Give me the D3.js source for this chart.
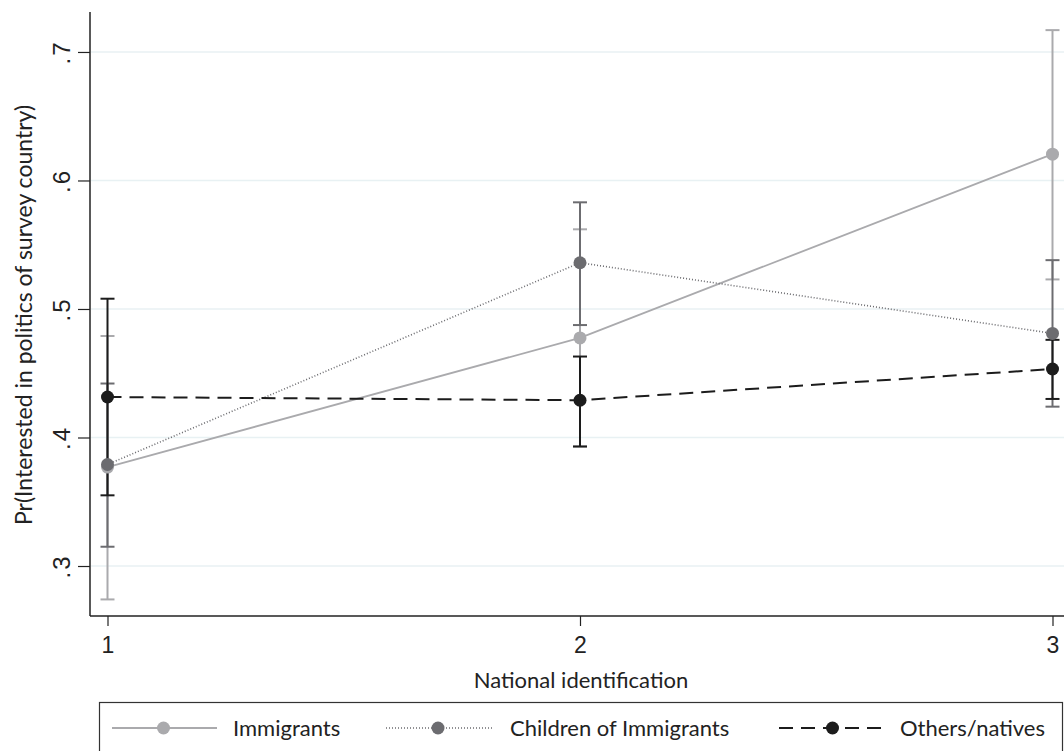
<!DOCTYPE html>
<html>
<head>
<meta charset="utf-8">
<script src="https://cdn.jsdelivr.net/npm/d3@7/dist/d3.min.js"></script>
<style>
  body { margin: 0; background: #fff; }
  svg { display: block; font-family: Lato, "Open Sans", sans-serif; }
</style>
</head>
<body>
<svg id="chart" width="1064" height="751"></svg>
<script>
// values
const categories = [1, 2, 3];
const yTicks = [0.3, 0.4, 0.5, 0.6, 0.7];
const yTickLabels = [".3", ".4", ".5", ".6", ".7"];

const immigrants   = [0.377, 0.4775, 0.6205];
const immigrantsLo = [0.274, 0.393, 0.523];
const immigrantsHi = [0.479, 0.562, 0.717];

const children   = [0.379, 0.536, 0.481];
const childrenLo = [0.315, 0.4875, 0.424];
const childrenHi = [0.442, 0.583, 0.538];

const natives   = [0.4315, 0.429, 0.4533];
const nativesLo = [0.355, 0.393, 0.430];
const nativesHi = [0.508, 0.463, 0.476];

const series = [
  { name: "Immigrants", est: immigrants, lo: immigrantsLo, hi: immigrantsHi,
    color: "#aaaaad", dash: null, width: 1.8 },
  { name: "Children of Immigrants", est: children, lo: childrenLo, hi: childrenHi,
    color: "#6c6c70", dash: "1,2", width: 1.6 },
  { name: "Others/natives", est: natives, lo: nativesLo, hi: nativesHi,
    color: "#1c1c1c", dash: "14,8", width: 2 },
];

const svg = d3.select("#chart");
const pL = 90, pR = 1064, pT = 12, pB = 616;

const x = d3.scaleLinear().domain([1, 3]).range([107.5, 1052.5]);
const y = d3.scaleLinear().domain([0.2611, 0.7311]).range([pB, pT]);

// grid
svg.append("g").selectAll("line").data(yTicks).join("line")
  .attr("x1", pL + 1).attr("x2", pR)
  .attr("y1", (d) => y(d)).attr("y2", (d) => y(d))
  .attr("stroke", "#e8f1f3").attr("stroke-width", 1.5);

// y axis
const yAxis = svg.append("g").attr("transform", `translate(${pL},0)`)
  .call(d3.axisLeft(y).tickValues(yTicks).tickSize(12)
    .tickFormat((d, i) => yTickLabels[i]));
yAxis.select(".domain").attr("d", `M0,${pT}V${pB}`).attr("stroke", "#222").attr("stroke-width", 1.5);
yAxis.selectAll(".tick line").attr("stroke", "#222").attr("stroke-width", 1.2);
yAxis.selectAll(".tick text")
  .attr("x", 0).attr("dy", 0)
  .attr("transform", "translate(-20,0) rotate(-90)")
  .attr("text-anchor", "middle")
  .style("font-size", "24px").style("letter-spacing", "2px").attr("fill", "#222");

// x axis
const xAxis = svg.append("g").attr("transform", `translate(0,${pB})`)
  .call(d3.axisBottom(x).tickValues(categories).tickSize(10).tickFormat(d3.format("d")));
xAxis.select(".domain").attr("d", `M${pL},0H${pR}`).attr("stroke", "#222").attr("stroke-width", 1.5);
xAxis.selectAll(".tick line").attr("stroke", "#222").attr("stroke-width", 1.2);
xAxis.selectAll(".tick text").attr("y", 37).attr("dy", 0)
  .style("font-size", "23px").attr("fill", "#222");

// axis titles
svg.append("text").attr("x", (pL + pR) / 2 + 4).attr("y", 688)
  .attr("text-anchor", "middle").style("font-size", "22px").attr("fill", "#222")
  .text("National identification");
svg.append("text")
  .attr("transform", `translate(32,${(pT + pB) / 2 + 1}) rotate(-90)`)
  .attr("text-anchor", "middle").style("font-size", "23px").attr("fill", "#222")
  .text("Pr(Interested in politics of survey country)");

// confidence intervals
const cap = 7;
series.forEach((s) => {
  const g = svg.append("g").attr("stroke", s.color).attr("stroke-width", 2);
  categories.forEach((c, i) => {
    g.append("line").attr("x1", x(c)).attr("x2", x(c))
      .attr("y1", y(s.lo[i])).attr("y2", y(s.hi[i]));
    [s.lo[i], s.hi[i]].forEach((v) => {
      g.append("line").attr("x1", x(c) - cap).attr("x2", x(c) + cap)
        .attr("y1", y(v)).attr("y2", y(v));
    });
  });
});

// lines and markers
const line = d3.line().x((d) => x(d[0])).y((d) => y(d[1]));
series.forEach((s) => {
  svg.append("path").datum(categories.map((c, i) => [c, s.est[i]]))
    .attr("d", line).attr("fill", "none")
    .attr("stroke", s.color).attr("stroke-width", s.width)
    .attr("stroke-dasharray", s.dash);
  svg.append("g").selectAll("circle").data(categories).join("circle")
    .attr("cx", (d) => x(d)).attr("cy", (d, i) => y(s.est[i]))
    .attr("r", 6.5).attr("fill", s.color);
});

// legend
const leg = svg.append("g");
leg.append("rect").attr("x", 99.5).attr("y", 702.5).attr("width", 963).attr("height", 60)
  .attr("fill", "#fff").attr("stroke", "#333").attr("stroke-width", 1.2);
const legX = [112, 386, 779];
const legW = [105, 106, 109];
const legTextX = [233, 510, 900];
series.forEach((s, i) => {
  const ly = 728;
  leg.append("line").attr("x1", legX[i]).attr("x2", legX[i] + legW[i])
    .attr("y1", ly).attr("y2", ly)
    .attr("stroke", s.color).attr("stroke-width", s.width)
    .attr("stroke-dasharray", s.dash);
  leg.append("circle").attr("cx", legX[i] + legW[i] / 2 - 1).attr("cy", ly)
    .attr("r", 6.5).attr("fill", s.color);
  leg.append("text").attr("x", legTextX[i]).attr("y", ly).attr("dy", "0.35em")
    .style("font-size", "22px").attr("fill", "#222").text(s.name);
});
</script>
</body>
</html>
